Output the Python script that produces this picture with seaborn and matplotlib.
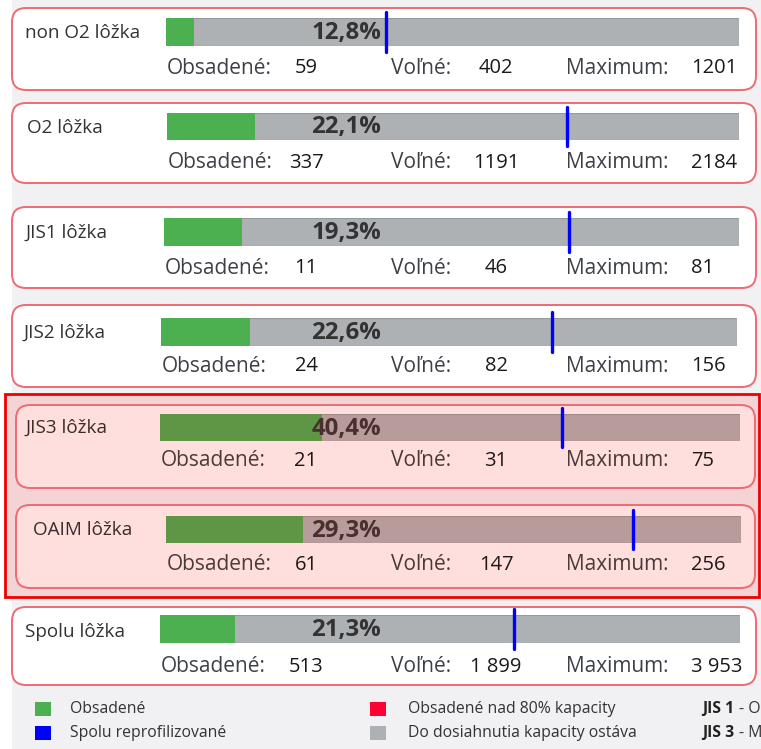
import matplotlib
matplotlib.use("Agg")
import matplotlib.pyplot as plt
from matplotlib.patches import FancyBboxPatch, Rectangle
import seaborn as sns
import pandas as pd

# ---------------- data ----------------
categories = ["non O2 lôžka", "O2 lôžka", "JIS1 lôžka", "JIS2 lôžka",
              "JIS3 lôžka", "OAIM lôžka", "Spolu lôžka"]
obsadene = [59, 337, 11, 24, 21, 61, 513]
volne = [402, 1191, 46, 82, 31, 147, 1899]
maximum = [1201, 2184, 81, 156, 75, 256, 3953]
pct_labels = ["12,8%", "22,1%", "19,3%", "22,6%", "40,4%", "29,3%", "21,3%"]
obs_labels = ["59", "337", "11", "24", "21", "61", "513"]
vol_labels = ["402", "1191", "46", "82", "31", "147", "1 899"]
max_labels = ["1201", "2184", "81", "156", "75", "256", "3 953"]
highlighted = [False, False, False, False, True, True, False]

legend_left = ["Obsadené", "Spolu reprofilizované"]
legend_mid = ["Obsadené nad 80% kapacity", "Do dosiahnutia kapacity ostáva"]
legend_right_bold = ["JIS 1", "JIS 3"]
legend_right_rest = ["- O", "- M"]

# ---------------- layout (pixels) ----------------
W, H = 761, 749
panel_y = [(8, 90), (103, 183), (207, 288), (305, 387), (405, 488), (505, 588), (607, 685)]
panel_x = [(12, 756), (12, 756), (12, 756), (12, 756), (16, 755), (16, 755), (12, 756)]
bar_x = [(166, 739), (167, 739), (164, 739), (161, 737), (160, 740), (166, 741), (160, 740)]
bar_y = [(18, 46), (113, 140), (218, 246), (318, 346), (414, 441), (516, 543), (615, 643)]
label_xy = [(25, 33), (27, 128), (25, 233), (23, 333), (25, 428), (33, 530), (25, 632)]
stat_y = [68, 163, 268, 366, 461, 565, 667]

GREEN, GRAY, GRAY_EDGE = "#4caf50", "#aeb1b3", "#979a9c"
GREEN_P, GRAY_P, GRAY_EDGE_P = "#5f9645", "#b89b9b", "#a38888"
BLUE = "#0000ff"
BORDER = "#ef6a72"

sns.set_theme(style="white")
plt.rcParams["font.family"] = ["Open Sans", "DejaVu Sans"]

fig = plt.figure(figsize=(W / 100, H / 100), dpi=100)
fig.patch.set_facecolor("white")
bg = fig.add_axes([0, 0, 1, 1])
bg.set_xlim(0, W)
bg.set_ylim(H, 0)
bg.axis("off")


def fx(x):
    return x / W


def fy(y):
    return 1 - y / H


# page background
bg.add_patch(Rectangle((12, 0), W - 12, H, facecolor="#f1f1f3", edgecolor="none", zorder=0))
# highlighted region
bg.add_patch(Rectangle((5, 394), 754, 203, facecolor="#f4d3d5", edgecolor="#ee0000",
                       linewidth=2, zorder=1))

for i in range(len(categories)):
    hl = highlighted[i]
    (px0, px1), (py0, py1) = panel_x[i], panel_y[i]
    bg.add_patch(FancyBboxPatch((px0, py0), px1 - px0, py1 - py0,
                                boxstyle="round,pad=0,rounding_size=14",
                                facecolor="#ffdede" if hl else "white",
                                edgecolor=BORDER, linewidth=1.4, zorder=2))
    # label
    lx, ly = label_xy[i]
    txtc = "#3a2c2c" if hl else "#333333"
    bg.text(lx, ly, categories[i], fontsize=13.6, color=txtc, va="center", ha="left", zorder=5)

    # bar axes
    (bx0, bx1), (by0, by1) = bar_x[i], bar_y[i]
    ax = fig.add_axes([bx0 / W, 1 - by1 / H, (bx1 - bx0) / W, (by1 - by0) / H])
    df = pd.DataFrame({"cat": [categories[i]], "max": [maximum[i]], "obs": [obsadene[i]]})
    sns.barplot(data=df, x="max", y="cat", orient="h", color=GRAY_P if hl else GRAY,
                saturation=1, width=1.0, edgecolor=GRAY_EDGE_P if hl else GRAY_EDGE,
                linewidth=0.8, ax=ax)
    sns.barplot(data=df, x="obs", y="cat", orient="h", color=GREEN_P if hl else GREEN,
                saturation=1, width=1.0, linewidth=0, ax=ax)
    ax.set_xlim(0, maximum[i])
    ax.set_ylim(0.5, -0.5)
    ext = 6 / (by1 - by0)
    ax.axvline(obsadene[i] + volne[i], ymin=-ext, ymax=1 + ext, color=BLUE,
               linewidth=2.4, clip_on=False, zorder=10)
    ax.axis("off")
    ax.patch.set_alpha(0)

    # percent (figure-level text, drawn above the bar axes)
    pc = "#4a2f2f" if hl else "#333333"
    fig.text(fx(381), fy((by0 + by1) / 2 + 1), pct_labels[i], fontsize=17.3,
             fontweight="bold", color=pc, ha="right", va="center", zorder=5)

    # stats row
    sy = stat_y[i]
    lc = "#4a3a3a" if hl else "#3d4147"
    vc = "#1f1818" if hl else "#1a1a1a"
    bg.text(bx0 + 1, sy, "Obsadené:", fontsize=15, color=lc, ha="left", va="center", zorder=5)
    bg.text(306, sy, obs_labels[i], fontsize=14.5, color=vc,
            ha="center", va="center", zorder=5)
    bg.text(391, sy, "Voľné:", fontsize=15, color=lc, ha="left", va="center", zorder=5)
    bg.text(496, sy, vol_labels[i], fontsize=14.5, color=vc,
            ha="center", va="center", zorder=5)
    bg.text(566, sy, "Maximum:", fontsize=15, color=lc, ha="left", va="center", zorder=5)
    bg.text(691, sy, max_labels[i], fontsize=14.5, color=vc,
            ha="left", va="center", zorder=5)

# legend
leg_y = [709, 733]
sq_left = [GREEN, BLUE]
sq_mid = ["#ff0033", "#aeb1b3"]
for j in range(2):
    bg.add_patch(Rectangle((35, leg_y[j] - 7), 16, 14, facecolor=sq_left[j], edgecolor="none", zorder=3))
    bg.text(70, leg_y[j], legend_left[j], fontsize=11.3, color="#333333", va="center", ha="left")
    bg.add_patch(Rectangle((370, leg_y[j] - 7), 16, 14, facecolor=sq_mid[j], edgecolor="none", zorder=3))
    bg.text(408, leg_y[j], legend_mid[j], fontsize=11.3, color="#333333", va="center", ha="left")
    bg.text(702, leg_y[j], legend_right_bold[j], fontsize=11.3, fontweight="bold",
            color="#222222", va="center", ha="left")
    bg.text(739, leg_y[j], legend_right_rest[j], fontsize=11.3, color="#333333", va="center", ha="left")

fig.savefig("out.png", dpi=100)
